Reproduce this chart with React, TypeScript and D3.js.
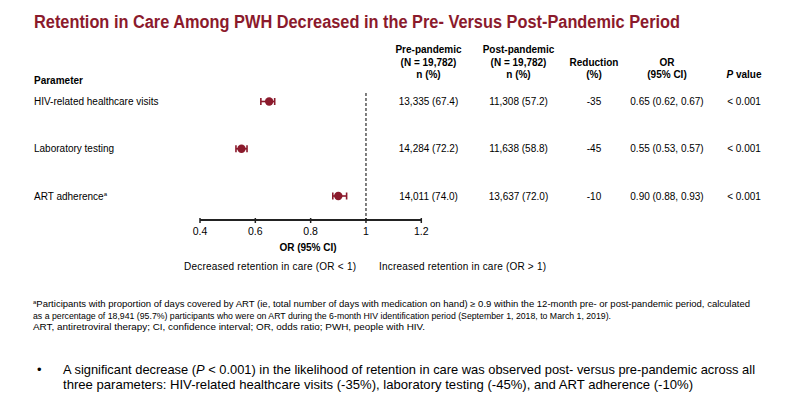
import React from "react";
import * as d3 from "d3";

const parameters = ["HIV-related healthcare visits", "Laboratory testing", "ART adherence"];
const superscripts = ["", "", "a"];
const preN = ["13,335", "14,284", "14,011"];
const prePct = ["67.4", "72.2", "74.0"];
const postN = ["11,308", "11,638", "13,637"];
const postPct = ["57.2", "58.8", "72.0"];
const reduction = ["-35", "-45", "-10"];
const orValues = [0.65, 0.55, 0.9];
const ciLow = [0.62, 0.53, 0.88];
const ciHigh = [0.67, 0.57, 0.93];
const pValues = ["< 0.001", "< 0.001", "< 0.001"];
const tickValues = [0.4, 0.6, 0.8, 1, 1.2];

const W = 801;
const H = 408;
const RED = "#8B1A2C";
const FONT = "'Liberation Sans', Arial, sans-serif";

export default function App() {
  const x = d3.scaleLinear().domain([0.4, 1.2]).range([200, 421.3]);
  const y = d3.scalePoint<number>().domain([0, 1, 2]).range([101.5, 196]);
  const axisY = 220;
  const cols = { pre: 428.5, post: 518.5, red: 594, or: 667, p: 744 };
  const fmt = d3.format(".2f");

  return (
    <svg width={W} height={H} style={{ position: "absolute", left: 0, top: 0, background: "#fff" }} fontFamily={FONT}>
      <rect width={W} height={H} fill="#fff" />
      <text x={34} y={28} fontSize={17.5} fontWeight="bold" fill={RED} textLength={646} lengthAdjust="spacingAndGlyphs">
        Retention in Care Among PWH Decreased in the Pre- Versus Post-Pandemic Period
      </text>

      {/* Headers */}
      <g fontSize={10} fontWeight="bold" fill="#000" textAnchor="middle">
        <text x={cols.pre} y={52.5}>Pre-pandemic</text>
        <text x={cols.pre} y={66}>(N = 19,782)</text>
        <text x={cols.pre} y={78}>n (%)</text>
        <text x={cols.post} y={52.5}>Post-pandemic</text>
        <text x={cols.post} y={66}>(N = 19,782)</text>
        <text x={cols.post} y={78}>n (%)</text>
        <text x={cols.red} y={66}>Reduction</text>
        <text x={cols.red} y={78}>(%)</text>
        <text x={cols.or} y={66}>OR</text>
        <text x={cols.or} y={78}>(95% CI)</text>
        <text x={cols.p} y={78}><tspan fontStyle="italic">P</tspan> value</text>
        <text x={34} y={83.5} textAnchor="start">Parameter</text>
      </g>

      {/* Rows */}
      {parameters.map((p, i) => {
        const yy = y(i)!;
        return (
          <g key={p} fontSize={10} fill="#000">
            <text x={34} y={yy + 3.5}>
              {p}
              {superscripts[i] && <tspan fontSize={6} dy={-4}>{superscripts[i]}</tspan>}
            </text>
            <g textAnchor="middle">
              <text x={cols.pre} y={yy + 3.5}>{`${preN[i]} (${prePct[i]})`}</text>
              <text x={cols.post} y={yy + 3.5}>{`${postN[i]} (${postPct[i]})`}</text>
              <text x={cols.red} y={yy + 3.5}>{reduction[i]}</text>
              <text x={cols.or} y={yy + 3.5}>{`${fmt(orValues[i])} (${fmt(ciLow[i])}, ${fmt(ciHigh[i])})`}</text>
              <text x={cols.p} y={yy + 3.5}>{pValues[i]}</text>
            </g>
          </g>
        );
      })}

      {/* Reference line */}
      <line x1={x(1)} x2={x(1)} y1={93} y2={axisY} stroke="#555" strokeWidth={1.5} strokeDasharray="3,2" />

      {/* Markers */}
      {orValues.map((v, i) => {
        const yy = y(i)!;
        return (
          <g key={i} stroke={RED} fill={RED}>
            <line x1={x(ciLow[i])} x2={x(ciHigh[i])} y1={yy} y2={yy} strokeWidth={1.6} />
            <line x1={x(ciLow[i])} x2={x(ciLow[i])} y1={yy - 3.5} y2={yy + 3.5} strokeWidth={1.6} />
            <line x1={x(ciHigh[i])} x2={x(ciHigh[i])} y1={yy - 3.5} y2={yy + 3.5} strokeWidth={1.6} />
            <circle cx={x(v)} cy={yy} r={4.2} stroke="none" />
          </g>
        );
      })}

      {/* Axis */}
      <g>
        <line x1={x(0.4)} x2={x(1.2)} y1={axisY} y2={axisY} stroke="#222" strokeWidth={1.8} />
        {tickValues.map((t) => (
          <g key={t}>
            <line x1={x(t)} x2={x(t)} y1={axisY - 2} y2={axisY + 3} stroke="#222" strokeWidth={1.5} />
            <text x={x(t)} y={axisY + 15} textAnchor="middle" fontSize={10.5} fill="#000">{String(t)}</text>
          </g>
        ))}
        <text x={308} y={250.5} textAnchor="middle" fontSize={10} fontWeight="bold">OR (95% CI)</text>
        <text x={184} y={270} textAnchor="start" fontSize={10} textLength={172} lengthAdjust="spacing">Decreased retention in care (OR &lt; 1)</text>
        <text x={379} y={270} textAnchor="start" fontSize={10} textLength={167} lengthAdjust="spacing">Increased retention in care (OR &gt; 1)</text>
      </g>

      {/* Footnotes */}
      <g fontSize={8.8} fill="#000">
        <text x={33} y={307} textLength={717} lengthAdjust="spacingAndGlyphs">
          <tspan fontSize={5.5} dy={-3}>a</tspan>
          <tspan dy={3}>Participants with proportion of days covered by ART (ie, total number of days with medication on hand) ≥ 0.9 within the 12-month pre- or post-pandemic period, calculated</tspan>
        </text>
        <text x={33} y={318.5} textLength={578} lengthAdjust="spacingAndGlyphs">
          as a percentage of 18,941 (95.7%) participants who were on ART during the 6-month HIV identification period (September 1, 2018, to March 1, 2019).
        </text>
        <text x={33} y={330} textLength={392} lengthAdjust="spacingAndGlyphs">
          ART, antiretroviral therapy; CI, confidence interval; OR, odds ratio; PWH, people with HIV.
        </text>
      </g>

      {/* Bullet */}
      <g fontSize={13} fill="#000">
        <text x={37} y={374}>•</text>
        <text x={63} y={374} textLength={692} lengthAdjust="spacingAndGlyphs">
          A significant decrease (<tspan fontStyle="italic">P</tspan> &lt; 0.001) in the likelihood of retention in care was observed post- versus pre-pandemic across all
        </text>
        <text x={63} y={388.5} textLength={630} lengthAdjust="spacingAndGlyphs">
          three parameters: HIV-related healthcare visits (-35%), laboratory testing (-45%), and ART adherence (-10%)
        </text>
      </g>
    </svg>
  );
}
